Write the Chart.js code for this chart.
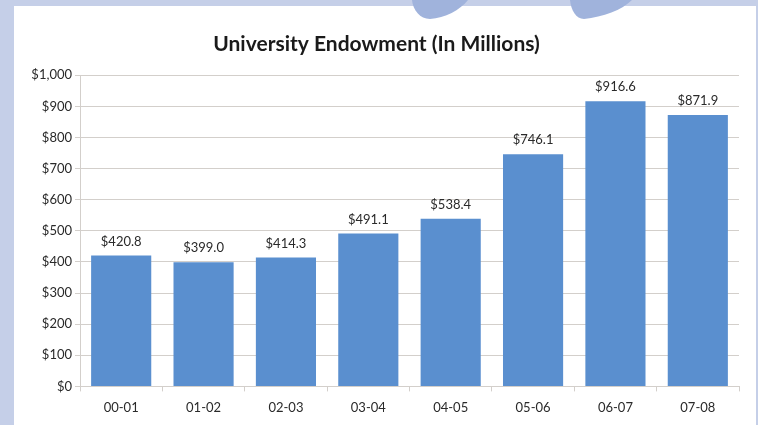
<!DOCTYPE html>
<html>
<head>
<meta charset="utf-8">
<script src="https://cdn.jsdelivr.net/npm/chart.js@4"></script>
<style>
  html, body { margin: 0; padding: 0; }
  body { width: 758px; height: 425px; background: #c5cfe8; position: relative; overflow: hidden; }
  #panel { position: absolute; left: 14px; top: 6px; width: 742px; height: 419px; background: #ffffff; }
  #wrap { position: absolute; left: 0; top: 0; width: 742px; height: 419px; }
  #deco { position: absolute; left: 0; top: 0; }
</style>
</head>
<body>
<div id="panel">
  <div id="wrap"><canvas id="c" width="742" height="419"></canvas></div>
</div>
<svg id="deco" width="758" height="30" viewBox="0 0 758 30">
  <path d="M412,0 C413,10 420,19 430,19 C445,18 460,10 468,0 Z" fill="#a0b3dc"/>
  <path d="M570,0 C571,10 576,19 584,19 C603,17 622,10 632,0 Z" fill="#a0b3dc"/>
</svg>
<script>
const categories = ["00-01", "01-02", "02-03", "03-04", "04-05", "05-06", "06-07", "07-08"];
const endowment = [420.8, 399.0, 414.3, 491.1, 538.4, 746.1, 916.6, 871.9];
const yTicks = [0, 100, 200, 300, 400, 500, 600, 700, 800, 900, 1000];
const chartTitle = "University Endowment (In Millions)";

const FONT = "Lato, 'Open Sans', sans-serif";
const TEXT = "#2a2a2a";
const GRID = "#d3cfcb";

const valueLabels = {
  id: 'valueLabels',
  afterDatasetsDraw(chart) {
    const ctx = chart.ctx;
    const meta = chart.getDatasetMeta(0);
    ctx.save();
    ctx.font = "13px " + FONT;
    ctx.fillStyle = TEXT;
    ctx.textAlign = 'center';
    ctx.textBaseline = 'middle';
    meta.data.forEach((bar, i) => {
      ctx.fillText('$' + endowment[i].toFixed(1), bar.x, bar.y - 14);
    });
    ctx.restore();
  }
};

new Chart(document.getElementById('c'), {
  type: 'bar',
  data: {
    labels: categories,
    datasets: [{
      data: endowment,
      backgroundColor: '#5a8fcf',
      borderWidth: 0,
      categoryPercentage: 0.73,
      barPercentage: 1.0
    }]
  },
  options: {
    responsive: false,
    animation: false,
    layout: { padding: { left: 0, right: 17, top: 0, bottom: 0 } },
    plugins: {
      legend: { display: false },
      tooltip: { enabled: false },
      title: {
        display: true,
        text: chartTitle,
        color: "#1a1a1a",
        font: { family: FONT, size: 21, weight: 'bold' },
        padding: { top: 26, bottom: 18 }
      }
    },
    scales: {
      x: {
        offset: true,
        grid: { display: true, drawOnChartArea: false, drawTicks: true, tickLength: 5, color: GRID, offset: true },
        border: { display: true, color: GRID, width: 1 },
        ticks: { color: TEXT, font: { family: FONT, size: 13 }, padding: 9 }
      },
      y: {
        min: 0,
        max: 1000,
        afterFit(scale) { scale.width = 66; },
        afterBuildTicks(scale) { scale.ticks = yTicks.map(v => ({ value: v })); },
        grid: { color: GRID, tickLength: 5, drawTicks: true },
        border: { display: true, color: GRID, width: 1 },
        ticks: {
          color: TEXT,
          font: { family: FONT, size: 13 },
          padding: 3,
          callback: (v) => '$' + v.toLocaleString('en-US')
        }
      }
    }
  },
  plugins: [valueLabels]
});
</script>
</body>
</html>
